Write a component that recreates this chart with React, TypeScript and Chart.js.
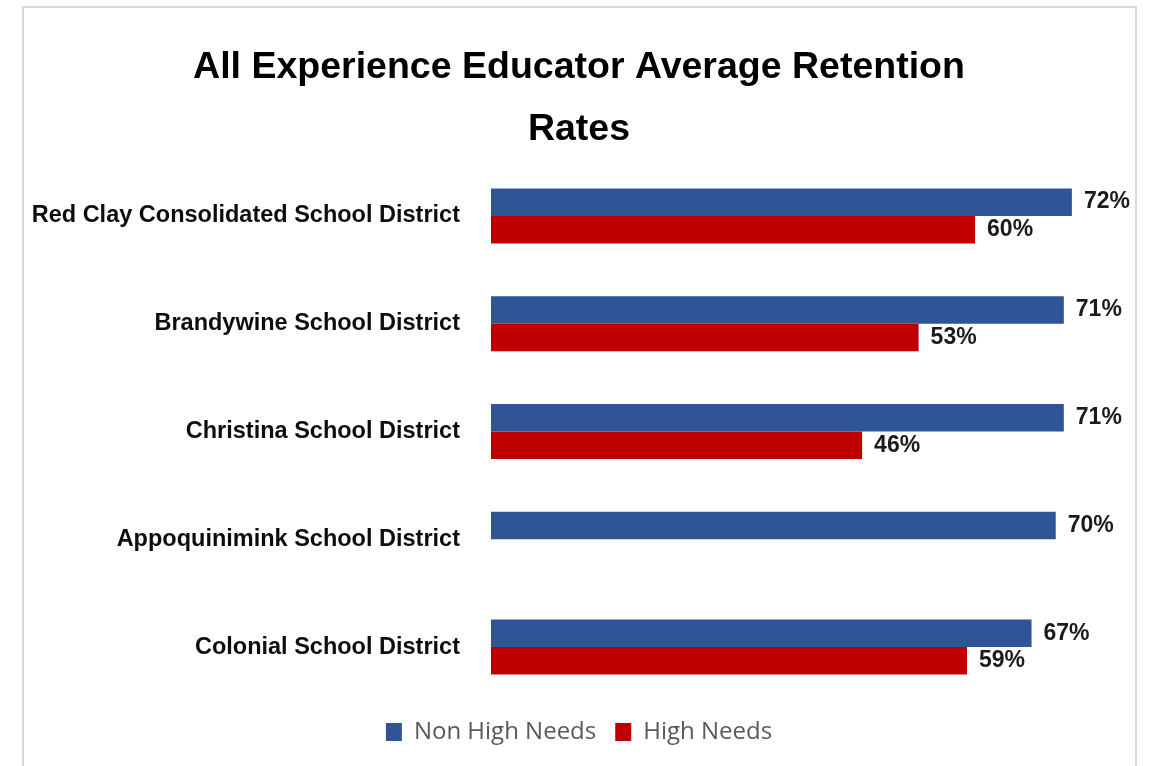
import React, { useEffect, useRef } from "react";
import { Chart, registerables } from "chart.js";

Chart.register(...registerables);

const categories = [
  "Red Clay Consolidated School District",
  "Brandywine School District",
  "Christina School District",
  "Appoquinimink School District",
  "Colonial School District",
];
const nonHighNeeds = [72, 71, 71, 70, 67];
const highNeeds: (number | null)[] = [60, 53, 46, null, 59];
const seriesNames = ["Non High Needs", "High Needs"];
const titleLines = ["All Experience Educator Average Retention", "Rates"];

const SANS = "'Liberation Sans', Arial, sans-serif";

const valueLabels = {
  id: "valueLabels",
  afterDatasetsDraw(chart: any) {
    const ctx = chart.ctx;
    ctx.save();
    ctx.font = `bold 23px ${SANS}`;
    ctx.fillStyle = "#1a1a1a";
    ctx.textAlign = "left";
    ctx.textBaseline = "middle";
    chart.data.datasets.forEach((ds: any, di: number) => {
      const meta = chart.getDatasetMeta(di);
      meta.data.forEach((el: any, i: number) => {
        const v = ds.data[i];
        if (v === null || v === undefined) return;
        ctx.fillText(`${v}%`, el.x + 12, el.y);
      });
    });
    ctx.restore();
  },
};

export default function App() {
  const ref = useRef<HTMLCanvasElement | null>(null);

  useEffect(() => {
    document.body.style.margin = "0";
    if (!ref.current) return;
    const chart = new Chart(ref.current, {
      type: "bar",
      data: {
        labels: categories,
        datasets: [
          {
            label: seriesNames[0],
            data: nonHighNeeds,
            backgroundColor: "#2F5597",
            borderWidth: 0,
            categoryPercentage: 0.51,
            barPercentage: 1,
          },
          {
            label: seriesNames[1],
            data: highNeeds,
            backgroundColor: "#C00000",
            borderWidth: 0,
            categoryPercentage: 0.51,
            barPercentage: 1,
          },
        ],
      },
      options: {
        indexAxis: "y",
        animation: false,
        responsive: false,
        maintainAspectRatio: false,
        layout: { padding: { left: 0, right: 1, top: 0, bottom: 12 } },
        scales: {
          x: {
            display: false,
            min: 0,
            max: 79.7,
            grid: { display: false },
          },
          y: {
            grid: { display: false, drawTicks: false },
            border: { display: false },
            ticks: {
              padding: 31,
              color: "#0d0d0d",
              font: { family: SANS, size: 23.5, weight: "bold" },
            },
            afterFit: (scale: any) => {
              scale.width = 467;
            },
          },
        },
        plugins: {
          title: {
            display: true,
            text: titleLines,
            color: "#000000",
            font: { family: SANS, size: 37.5, weight: "bold", lineHeight: 1.64 },
            padding: { top: 29, bottom: 2 },
          },
          legend: {
            display: true,
            position: "bottom",
            labels: {
              boxWidth: 16,
              boxHeight: 18,
              padding: 19,
              color: "#595959",
              font: { family: "'Open Sans', sans-serif", size: 24 },
            },
          },
          tooltip: { enabled: false },
        },
      },
      plugins: [valueLabels],
    });
    return () => chart.destroy();
  }, []);

  return (
    <div
      style={{
        position: "absolute",
        left: 22,
        top: 6,
        width: 1111,
        height: 800,
        border: "2px solid #d9d9d9",
        background: "#ffffff",
      }}
    >
      <canvas ref={ref} width={1111} height={758} style={{ display: "block" }} />
    </div>
  );
}
